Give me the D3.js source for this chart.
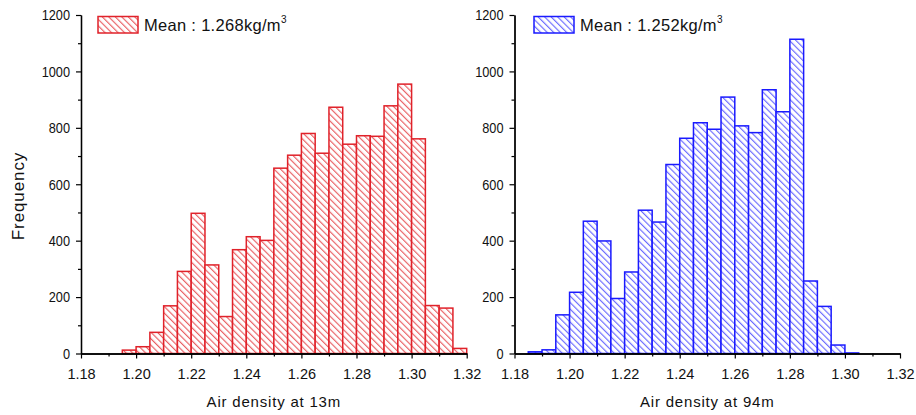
<!DOCTYPE html>
<html><head><meta charset="utf-8">
<script src="https://cdn.jsdelivr.net/npm/d3@7"></script>
<style>body{margin:0;background:#fff}svg{display:block}text{font-family:"Liberation Sans",Arial,sans-serif}</style>
</head><body><svg id="c" width="916" height="415"></svg>
<script>
// ---- data ----
const binWidth = 0.005;
const bins13 = [1.195,1.200,1.205,1.210,1.215,1.220,1.225,1.230,1.235,1.240,1.245,1.250,1.255,1.260,1.265,1.270,1.275,1.280,1.285,1.290,1.295,1.300,1.305,1.310,1.315,1.320];
const freq13 = [12,24,75,169,291,497,314,131,368,414,401,657,703,780,710,873,742,772,770,878,955,761,170,161,18,0];
const bins94 = [1.185,1.190,1.195,1.200,1.205,1.210,1.215,1.220,1.225,1.230,1.235,1.240,1.245,1.250,1.255,1.260,1.265,1.270,1.275,1.280,1.285,1.290,1.295,1.300];
const freq94 = [6,13,137,217,469,399,195,289,508,466,670,763,818,795,909,807,783,935,857,1114,257,167,30,2];
const xTicks = [1.18,1.20,1.22,1.24,1.26,1.28,1.30,1.32];
const xMinor = [1.19,1.21,1.23,1.25,1.27,1.29,1.31];
const yTicks = [0,200,400,600,800,1000,1200];
const yMinor = [100,300,500,700,900,1100];
const legend13 = "Mean : 1.268kg/m";
const legend94 = "Mean : 1.252kg/m";
const xLabel13 = "Air density at 13m";
const xLabel94 = "Air density at 94m";
const yLabel = "Frequency";

const svg = d3.select("#c");
const defs = svg.append("defs");
function hatch(id, color){
  const p = defs.append("pattern").attr("id", id).attr("patternUnits","userSpaceOnUse")
    .attr("width",4.6).attr("height",4.6).attr("patternTransform","rotate(-45)");
  p.append("rect").attr("width",4.6).attr("height",4.6).attr("fill","#fff");
  p.append("line").attr("x1",0.6).attr("y1",0).attr("x2",0.6).attr("y2",4.6)
    .attr("stroke",color).attr("stroke-width",1.1);
}
hatch("hr","#e8565a");
hatch("hb","#6363ff");

function panel(opts){
  const {x0,x1,bins,freq,color,fillId,legend,xLabel,showY,legX} = opts;
  const y0 = 353.5, y1 = 15;
  const x = d3.scaleLinear().domain([1.18,1.32]).range([x0,x1]);
  const y = d3.scaleLinear().domain([0,1200]).range([y0,y1]);
  const g = svg.append("g");
  // bars
  g.selectAll("rect.bar").data(bins.map((b,i)=>({b,v:freq[i]}))).join("rect")
    .attr("x",d=>x(d.b)).attr("width",d=>x(d.b+binWidth)-x(d.b))
    .attr("y",d=>y(d.v)).attr("height",d=>y0-y(d.v))
    .attr("fill",`url(#${fillId})`).attr("stroke",color).attr("stroke-width",1.5);
  // axes
  const ax = g.append("g").attr("transform",`translate(0,${y0})`)
    .call(d3.axisBottom(x).tickValues(xTicks).tickFormat(d3.format(".2f")).tickSize(5).tickSizeOuter(0).tickPadding(10));
  g.append("g").attr("transform",`translate(0,${y0})`)
    .call(d3.axisBottom(x).tickValues(xMinor).tickFormat("").tickSize(3).tickSizeOuter(0));
  const ay = g.append("g").attr("transform",`translate(${x0},0)`)
    .call(d3.axisLeft(y).tickValues(yTicks).tickFormat(d3.format("d")).tickSize(5).tickSizeOuter(0));
  g.append("g").attr("transform",`translate(${x0},0)`)
    .call(d3.axisLeft(y).tickValues(yMinor).tickFormat("").tickSize(3).tickSizeOuter(0));
  g.selectAll(".domain").attr("stroke","#000").attr("stroke-width",1.3);
  g.selectAll(".tick line").attr("stroke","#000").attr("stroke-width",1.2);
  g.selectAll(".tick text").attr("fill","#111").attr("font-family",'"Liberation Sans",Arial,sans-serif');
  ax.selectAll(".tick text").attr("font-size",14.5);
  ay.selectAll(".tick text").attr("font-size",15).attr("x",0)
    .attr("transform","translate(-11,0) scale(0.85,1)");
  // x label
  g.append("text").attr("x",(x0+x1)/2).attr("y",407).attr("text-anchor","middle")
    .attr("font-size",15).attr("letter-spacing",0.8).attr("fill","#111").text(xLabel);
  if(showY){
    g.append("text").attr("transform","translate(24,196) rotate(-90)").attr("text-anchor","middle")
      .attr("font-size",17).attr("letter-spacing",0.9).attr("fill","#111").text(yLabel);
  }
  // legend
  g.append("rect").attr("x",legX).attr("y",16.5).attr("width",40).attr("height",16.5)
    .attr("fill",`url(#${fillId})`).attr("stroke",color).attr("stroke-width",1.5);
  const t = g.append("text").attr("x",legX+46).attr("y",31).attr("font-size",16.5).attr("letter-spacing",0.3).attr("fill","#111");
  t.append("tspan").text(legend);
  t.append("tspan").attr("font-size",10).attr("dy",-8).text("3");
}

panel({x0:81,x1:466.7,bins:bins13,freq:freq13,color:"#e0222a",fillId:"hr",legend:legend13,xLabel:xLabel13,showY:true,legX:98});
panel({x0:514.5,x1:900,bins:bins94,freq:freq94,color:"#1a1aff",fillId:"hb",legend:legend94,xLabel:xLabel94,showY:false,legX:534});
</script></body></html>
